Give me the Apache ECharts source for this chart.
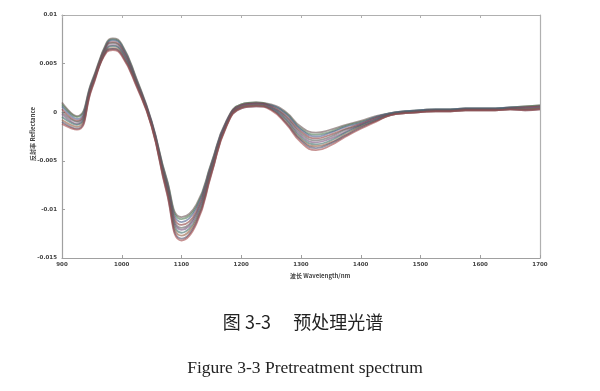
<!DOCTYPE html>
<html>
<head>
<meta charset="utf-8">
<script src="https://cdn.jsdelivr.net/npm/echarts@6/dist/echarts.min.js"></script>
<style>
html,body{margin:0;padding:0;background:#fff;}
#chart{width:600px;height:391px;}
</style>
</head>
<body>
<div id="chart"></div>
<script>
const wavelengths = [900,925,950,975,985,1000,1025,1050,1075,1100,1125,1150,1175,1200,1225,1250,1275,1300,1325,1350,1375,1400,1425,1450,1475,1500,1525,1550,1575,1600,1625,1650,1675,1700];

const spec01 = [0.0010,-0.0004,0.0032,0.0072,0.0076,0.0070,0.0034,-0.0009,-0.0068,-0.0108,-0.0095,-0.0052,-0.0009,0.0008,0.0010,0.0008,0.0000,-0.0015,-0.0021,-0.0018,-0.0013,-0.0009,-0.0004,-0.0001,0.0001,0.0002,0.0003,0.0003,0.0004,0.0004,0.0004,0.0005,0.0006,0.0007];
const spec02 = [0.0008,-0.0005,0.0031,0.0071,0.0075,0.0069,0.0033,-0.0010,-0.0069,-0.0110,-0.0097,-0.0053,-0.0010,0.0008,0.0010,0.0007,-0.0001,-0.0017,-0.0023,-0.0020,-0.0014,-0.0010,-0.0005,-0.0001,0.0001,0.0002,0.0003,0.0003,0.0004,0.0004,0.0004,0.0005,0.0006,0.0007];
const spec03 = [0.0006,-0.0007,0.0030,0.0070,0.0074,0.0068,0.0032,-0.0010,-0.0071,-0.0113,-0.0099,-0.0054,-0.0010,0.0007,0.0009,0.0007,-0.0002,-0.0018,-0.0025,-0.0021,-0.0015,-0.0011,-0.0005,-0.0001,0.0001,0.0002,0.0003,0.0003,0.0004,0.0004,0.0004,0.0005,0.0005,0.0006];
const spec04 = [0.0003,-0.0009,0.0029,0.0069,0.0072,0.0066,0.0031,-0.0011,-0.0073,-0.0116,-0.0102,-0.0056,-0.0011,0.0007,0.0009,0.0006,-0.0004,-0.0020,-0.0027,-0.0023,-0.0017,-0.0012,-0.0006,-0.0002,0.0000,0.0001,0.0002,0.0002,0.0003,0.0003,0.0003,0.0004,0.0005,0.0006];
const spec05 = [0.0000,-0.0010,0.0028,0.0068,0.0071,0.0065,0.0030,-0.0012,-0.0074,-0.0119,-0.0104,-0.0057,-0.0012,0.0006,0.0008,0.0005,-0.0005,-0.0022,-0.0029,-0.0025,-0.0018,-0.0013,-0.0007,-0.0002,0.0000,0.0001,0.0002,0.0002,0.0003,0.0003,0.0003,0.0004,0.0004,0.0005];
const spec06 = [-0.0002,-0.0012,0.0028,0.0066,0.0069,0.0063,0.0030,-0.0012,-0.0076,-0.0121,-0.0106,-0.0059,-0.0012,0.0006,0.0008,0.0005,-0.0007,-0.0024,-0.0031,-0.0027,-0.0020,-0.0013,-0.0007,-0.0002,0.0000,0.0001,0.0002,0.0002,0.0003,0.0003,0.0003,0.0004,0.0004,0.0005];
const spec07 = [-0.0005,-0.0013,0.0027,0.0065,0.0068,0.0062,0.0029,-0.0013,-0.0077,-0.0124,-0.0109,-0.0060,-0.0013,0.0005,0.0007,0.0004,-0.0008,-0.0026,-0.0033,-0.0029,-0.0021,-0.0014,-0.0008,-0.0002,0.0000,0.0001,0.0002,0.0002,0.0003,0.0003,0.0003,0.0004,0.0003,0.0004];
const spec08 = [-0.0008,-0.0015,0.0026,0.0064,0.0066,0.0060,0.0028,-0.0014,-0.0079,-0.0127,-0.0111,-0.0062,-0.0014,0.0005,0.0007,0.0003,-0.0010,-0.0028,-0.0035,-0.0031,-0.0023,-0.0015,-0.0009,-0.0003,-0.0001,0.0000,0.0001,0.0001,0.0002,0.0002,0.0002,0.0003,0.0003,0.0004];
const spec09 = [-0.0010,-0.0017,0.0025,0.0063,0.0065,0.0059,0.0027,-0.0014,-0.0081,-0.0130,-0.0113,-0.0063,-0.0014,0.0004,0.0006,0.0003,-0.0011,-0.0029,-0.0037,-0.0032,-0.0024,-0.0016,-0.0009,-0.0003,-0.0001,0.0000,0.0001,0.0001,0.0002,0.0002,0.0002,0.0003,0.0002,0.0003];
const spec10 = [-0.0012,-0.0018,0.0024,0.0062,0.0064,0.0058,0.0026,-0.0015,-0.0082,-0.0132,-0.0115,-0.0064,-0.0015,0.0004,0.0006,0.0002,-0.0012,-0.0031,-0.0039,-0.0034,-0.0025,-0.0017,-0.0010,-0.0003,-0.0001,0.0000,0.0001,0.0001,0.0002,0.0002,0.0002,0.0003,0.0002,0.0003];

const spectra = [spec01,spec02,spec03,spec04,spec05,spec06,spec07,spec08,spec09,spec10];
const xTicks = [900,1000,1100,1200,1300,1400,1500,1600,1700];
const yTicks = [-0.015,-0.01,-0.005,0,0.005,0.01];
const xTitle = '波长 Wavelength/nm';
const yTitle = '反射率 Reflectance';
const captionCn = '图 3-3　 预处理光谱';
const captionEn = 'Figure 3-3 Pretreatment spectrum';

const lineColors = ['#6b5555','#4f7a53','#4d5f8c','#8a3c3c','#5f5f5f','#75507a','#3f6c68','#925b3f','#52526e','#a04a4a'];

const chart = echarts.init(document.getElementById('chart'), null, {renderer:'canvas'});

const fmtY = v => String(parseFloat(v.toFixed(3)));
const fmtX = v => String(v);

const series = spectra.map((arr, i) => ({
  type: 'line',
  xAxisIndex: 0,
  yAxisIndex: 0,
  smooth: 0.5,
  symbol: 'none',
  silent: true,
  lineStyle: {color: lineColors[i % lineColors.length], width: 1.8, opacity: 0.6},
  data: wavelengths.map((w, j) => [w, arr[j]])
}));

chart.setOption({
  animation: false,
  backgroundColor: '#ffffff',
  grid: {left: 62, right: 60, top: 15, bottom: 133, show: false},
  xAxis: [{
    type: 'value', min: xTicks[0], max: xTicks[xTicks.length-1], interval: 100, position: 'bottom',
    axisLine: {show: true, onZero: false, lineStyle: {color: '#a0a0a0', width: 1.2}},
    axisTick: {show: true, inside: true, length: 3, lineStyle: {color: '#a0a0a0'}},
    axisLabel: {show: true, fontSize: 5.5, color: '#444', fontWeight: 'bold', margin: 4, fontFamily: 'DejaVu Sans', formatter: fmtX},
    splitLine: {show: false}
  },{
    type: 'value', min: xTicks[0], max: xTicks[xTicks.length-1], interval: 100, position: 'top',
    axisLine: {show: true, onZero: false, lineStyle: {color: '#b0b0b0', width: 1.2}},
    axisTick: {show: true, inside: true, length: 3, lineStyle: {color: '#b0b0b0'}},
    axisLabel: {show: false}, splitLine: {show: false}
  }],
  yAxis: [{
    type: 'value', min: yTicks[0], max: yTicks[yTicks.length-1], interval: 0.005, position: 'left',
    axisLine: {show: true, onZero: false, lineStyle: {color: '#a0a0a0', width: 1.2}},
    axisTick: {show: true, inside: true, length: 3, lineStyle: {color: '#a0a0a0'}},
    axisLabel: {show: true, fontSize: 5.5, color: '#444', fontWeight: 'bold', margin: 5, fontFamily: 'DejaVu Sans', formatter: fmtY},
    splitLine: {show: false}
  },{
    type: 'value', min: yTicks[0], max: yTicks[yTicks.length-1], interval: 0.005, position: 'right',
    axisLine: {show: true, onZero: false, lineStyle: {color: '#b0b0b0', width: 1.2}},
    axisTick: {show: false}, axisLabel: {show: false}, splitLine: {show: false}
  }],
  series: series,
  graphic: [
    {type: 'text', left: 290, top: 273, style: {text: xTitle, fontSize: 6, fontWeight: 'bold', fill: '#444', fontFamily: 'Noto Sans CJK SC'}},
    {type: 'text', x: 33, y: 134, rotation: Math.PI/2, style: {text: yTitle, fontSize: 6, fontWeight: 'bold', fill: '#444', fontFamily: 'Noto Sans CJK SC', align: 'center', verticalAlign: 'middle'}},
    {type: 'text', x: 303, y: 322, style: {text: captionCn, fontSize: 18, fill: '#222', fontFamily: 'Noto Sans CJK SC', align: 'center', verticalAlign: 'middle'}},
    {type: 'text', x: 305, y: 368, style: {text: captionEn, fontSize: 17.5, fill: '#222', fontFamily: 'Liberation Serif', align: 'center', verticalAlign: 'middle'}}
  ]
});
</script>
</body>
</html>
